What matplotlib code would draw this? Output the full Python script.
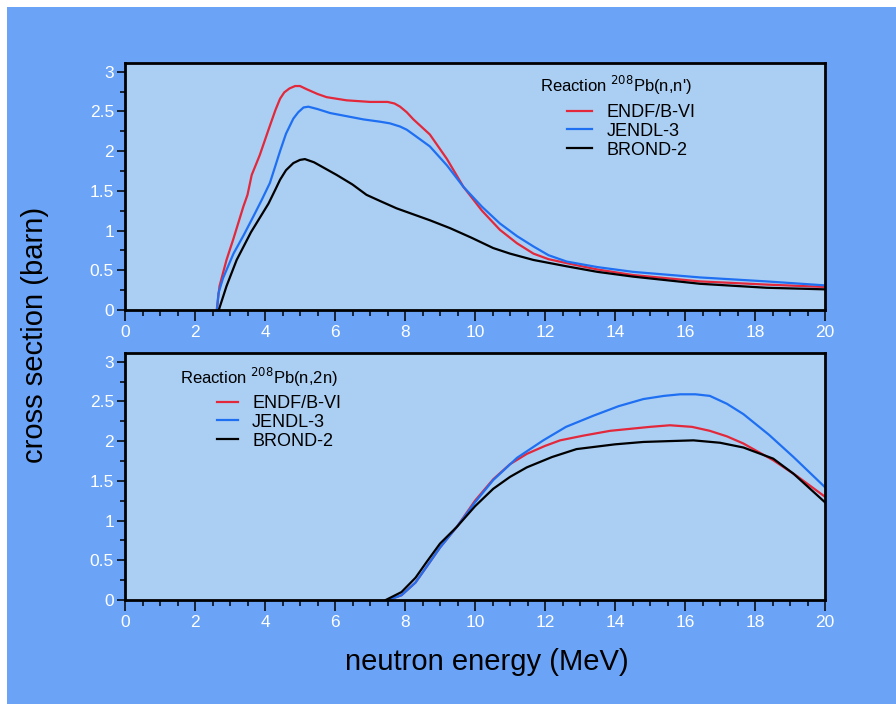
import matplotlib
matplotlib.use("Agg")
import matplotlib.pyplot as plt
from matplotlib.patches import Rectangle
from matplotlib.ticker import MultipleLocator

plt.rcParams['font.family'] = ['Liberation Sans', 'DejaVu Sans']

# ---- data: 208Pb(n,n') ----
nn_endf_e = [2.62, 2.7, 2.9, 3.1, 3.38, 3.5, 3.62, 3.85, 4.1, 4.3, 4.43, 4.55, 4.7, 4.86, 5.0, 5.19, 5.5, 5.76, 6.33, 7.0, 7.5, 7.7, 7.86, 8.05, 8.24, 8.71, 9.2, 9.67, 10.2, 10.71, 11.2, 11.67, 12.1, 12.62, 13.5, 14.52, 16.43, 18.33, 20]
nn_endf_s = [0, 0.3, 0.63, 0.9, 1.30, 1.45, 1.70, 1.95, 2.27, 2.52, 2.66, 2.74, 2.79, 2.82, 2.82, 2.78, 2.72, 2.68, 2.64, 2.62, 2.62, 2.60, 2.56, 2.49, 2.40, 2.21, 1.90, 1.55, 1.25, 1.01, 0.84, 0.71, 0.64, 0.59, 0.51, 0.44, 0.36, 0.32, 0.29]
nn_jendl_e = [2.63, 2.67, 2.8, 3.1, 3.4, 3.67, 3.9, 4.14, 4.3, 4.43, 4.6, 4.81, 4.95, 5.1, 5.24, 5.5, 5.86, 6.81, 7.3, 7.57, 7.86, 8.05, 8.24, 8.71, 9.2, 9.67, 10.2, 10.71, 11.2, 11.67, 12.1, 12.62, 13.5, 14.52, 16.43, 18.33, 20]
nn_jendl_s = [0, 0.21, 0.4, 0.71, 0.95, 1.18, 1.38, 1.60, 1.82, 2.00, 2.22, 2.41, 2.49, 2.55, 2.56, 2.53, 2.48, 2.40, 2.37, 2.35, 2.31, 2.27, 2.21, 2.06, 1.82, 1.55, 1.30, 1.09, 0.93, 0.80, 0.69, 0.61, 0.54, 0.48, 0.41, 0.36, 0.31]
nn_brond_e = [2.68, 2.9, 3.19, 3.6, 4.1, 4.3, 4.43, 4.6, 4.81, 5.0, 5.14, 5.4, 6.05, 6.5, 6.9, 7.3, 7.76, 8.71, 9.29, 9.9, 10.52, 11.0, 11.67, 12.62, 13.5, 14.52, 16.43, 18.33, 20]
nn_brond_s = [0, 0.3, 0.63, 0.98, 1.34, 1.52, 1.64, 1.76, 1.85, 1.89, 1.90, 1.86, 1.70, 1.58, 1.45, 1.37, 1.28, 1.13, 1.03, 0.91, 0.78, 0.71, 0.63, 0.55, 0.48, 0.42, 0.33, 0.28, 0.26]

# ---- data: 208Pb(n,2n) ----
n2n_endf_e = [7.52, 7.9, 8.3, 8.62, 9.0, 9.48, 10.0, 10.52, 11.0, 11.48, 12.0, 12.43, 13.1, 13.86, 15.0, 15.57, 16.2, 16.71, 17.2, 17.67, 18.52, 19.2, 20]
n2n_endf_s = [0, 0.06, 0.22, 0.42, 0.66, 0.92, 1.25, 1.52, 1.71, 1.84, 1.94, 2.01, 2.07, 2.13, 2.18, 2.20, 2.18, 2.13, 2.06, 1.97, 1.76, 1.56, 1.30]
n2n_jendl_e = [7.52, 7.9, 8.3, 8.62, 9.0, 9.48, 10.0, 10.52, 11.2, 11.95, 12.6, 13.38, 14.1, 14.81, 15.4, 15.86, 16.3, 16.71, 17.2, 17.67, 18.4, 19.1, 20]
n2n_jendl_s = [0, 0.06, 0.22, 0.42, 0.66, 0.92, 1.23, 1.51, 1.79, 2.01, 2.18, 2.32, 2.44, 2.53, 2.57, 2.59, 2.59, 2.57, 2.47, 2.34, 2.08, 1.80, 1.42]
n2n_brond_e = [7.45, 7.9, 8.3, 8.62, 9.0, 9.48, 10.0, 10.52, 11.0, 11.48, 12.2, 12.9, 14.0, 14.81, 15.5, 16.24, 17.0, 17.67, 18.52, 19.1, 20]
n2n_brond_s = [0, 0.1, 0.28, 0.48, 0.71, 0.92, 1.18, 1.40, 1.55, 1.67, 1.80, 1.90, 1.96, 1.99, 2.00, 2.01, 1.98, 1.92, 1.78, 1.59, 1.23]

labels = ["ENDF/B-VI", "JENDL-3", "BROND-2"]
titles = ["Reaction $^{208}$Pb(n,n')", "Reaction $^{208}$Pb(n,2n)"]
x_ticks = [0, 2, 4, 6, 8, 10, 12, 14, 16, 18, 20]
y_ticks = [0, 0.5, 1, 1.5, 2, 2.5, 3]
y_ticklabels = ["0", "0.5", "1", "1.5", "2", "2.5", "3"]

RED = "#e2283a"
BLUE = "#1f6ff2"
BLACK = "#000000"
OUTER = "#6ba4f7"
FACE = "#abcff3"

W, H = 896, 704
fig = plt.figure(figsize=(W / 100, H / 100), dpi=100, facecolor="white")
fig.patches.append(Rectangle((7 / W, 0), 1 - 7 / W, 1 - 7 / H, transform=fig.transFigure,
                             facecolor=OUTER, edgecolor="none", zorder=-10))

ax1 = fig.add_axes([125 / W, 1 - 310 / H, 700 / W, 247 / H])
ax2 = fig.add_axes([125 / W, 1 - 600 / H, 700 / W, 247 / H])

series = [
    (ax1, [(nn_endf_e, nn_endf_s, RED), (nn_jendl_e, nn_jendl_s, BLUE), (nn_brond_e, nn_brond_s, BLACK)]),
    (ax2, [(n2n_endf_e, n2n_endf_s, RED), (n2n_jendl_e, n2n_jendl_s, BLUE), (n2n_brond_e, n2n_brond_s, BLACK)]),
]

for ax, data in series:
    ax.set_facecolor(FACE)
    for (e, s, c), lab in zip(data, labels):
        ax.plot(e, s, color=c, lw=1.6, label=lab, solid_joinstyle="round")
    ax.set_xlim(0, 20)
    ax.set_ylim(0, 3.11)
    ax.set_xticks(x_ticks)
    ax.set_xticklabels([str(t) for t in x_ticks])
    ax.set_yticks(y_ticks)
    ax.set_yticklabels(y_ticklabels)
    ax.xaxis.set_minor_locator(MultipleLocator(0.5))
    ax.yaxis.set_minor_locator(MultipleLocator(0.25))
    for sp in ax.spines.values():
        sp.set_linewidth(2.0)
        sp.set_color("black")
        sp.set_zorder(5)
    ax.tick_params(axis="x", which="major", direction="out", length=8, width=1.1, color="black",
                   labelcolor="white", labelsize=12.5, pad=3)
    ax.tick_params(axis="x", which="minor", direction="out", length=4.5, width=1.1, color="black")
    ax.tick_params(axis="y", which="major", direction="out", length=6, width=1.1, color="black",
                   labelcolor="white", labelsize=12.5, pad=2)
    ax.tick_params(axis="y", which="minor", direction="out", length=3.5, width=1.1, color="black")

# legend titles
fig.text(540 / W, 1 - 85 / H, titles[0], fontsize=12, va="center", ha="left")
fig.text(180 / W, 1 - 377 / H, titles[1], fontsize=12, va="center", ha="left")


def px_to_axes(ax, x, y):
    inv = ax.transAxes.inverted()
    return inv.transform((x, H - y))


for ax, (lx, ly), hl in ((ax1, (567, 104), 1.4), (ax2, (217, 395), 1.15)):
    ax.legend(loc="upper left", bbox_to_anchor=tuple(px_to_axes(ax, lx, ly)), frameon=False,
              fontsize=13, handlelength=hl, handletextpad=0.8, labelspacing=0.1,
              borderpad=0, borderaxespad=0)

fig.text(35 / W, 1 - 335 / H, "cross section (barn)", rotation=90, ha="center", va="center", fontsize=21)
fig.text(487 / W, 1 - 662 / H, "neutron energy (MeV)", ha="center", va="center", fontsize=21)

fig.savefig("out.png", dpi=100, facecolor=fig.get_facecolor())
